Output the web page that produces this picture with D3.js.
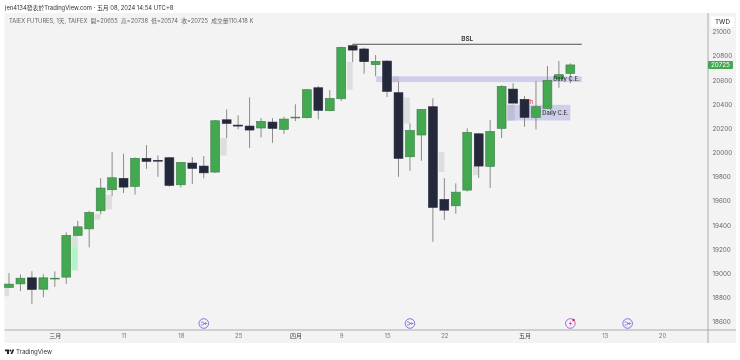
<!DOCTYPE html>
<html>
<head>
<meta charset="utf-8">
<script src="https://cdn.jsdelivr.net/npm/d3@7"></script>
<style>
html, body { margin: 0; padding: 0; background: #fff; }
svg { display: block; font-family: Inter, "Noto Sans CJK TC", sans-serif; filter: blur(0.3px); }
</style>
</head>
<body>
<div id="chart"></div>
<script>
// daily candles
const opens  = [18883,18913,18963,18869,18958,18969,19314,19368,19518,19692,19786,19720,19952,19935,19957,19733,19913,19888,19838,20271,20227,20219,20203,20252,20192,20290,20288,20536,20346,20445,20884,20857,20727,20757,20495,19965,20145,20379,19612,19559,19689,20155,19885,20200,20525,20440,20291,20366,20611,20655];
const highs  = [19002,18991,19018,18993,19016,19339,19435,19518,19788,20004,19990,19960,20062,19976,19960,19922,19962,19971,20268,20357,20308,20457,20285,20285,20296,20399,20525,20550,20517,20875,20896,20868,20807,20763,20586,20241,20360,20448,19788,19745,20200,20160,20269,20556,20573,20467,20592,20716,20757,20738];
const lows   = [18885,18853,18747,18803,18888,18913,19310,19215,19490,19642,19664,19653,19865,19799,19718,19711,19739,19786,19832,20120,20192,20039,20125,20081,20153,20260,20282,20275,20342,20426,20749,20652,20631,20459,19799,19849,19932,19261,19443,19493,19678,19790,19708,20120,20400,20213,20192,20360,20536,20574];
const closes = [18911,18960,18867,18963,18960,19314,19385,19504,19706,19791,19714,19952,19927,19933,19728,19918,19869,19832,20263,20241,20219,20186,20258,20200,20277,20293,20520,20349,20448,20871,20848,20752,20755,20506,19952,20183,20357,19546,19523,19672,20167,19888,20175,20548,20410,20291,20379,20597,20644,20725];

const priceTicks = [21000,20800,20600,20400,20200,20000,19800,19600,19400,19200,19000,18800,18600];
const dayTicks   = [4,10,15,20,25,29,33,38,45,52,57];
const dayLabels  = ['三月','11','18','25','四月','9','15','22','五月','13','20'];
const boldDays   = [4,25,45];

// gaps: [from bar, to bar, top price, bottom price]
const grayGaps = [[-0.4,0,18883,18810],[18.45,19,20120,19975],[5.45,6,19310,19225],[7.45,8,19490,19445],[8.45,9,19650,19530],[29.5,30,20750,20520],[34.45,35,20455,20240],[37.5,38,20005,19838],[40.5,41,19895,19812]];
const greenGaps = [[5.45,6,19225,19025]];
const zones = [[32.05,50,20630,20583,'Daily C.E.',47.5],[43.5,49,20395,20265,'Daily C.E.',46.55]];
const zoneShades = [[33.5,34.05,20630,20583],[43.5,44.15,20395,20265]];
const bslLine = [30,50,20896];
const eventBars = [17,35,49,54];

const width = 740, height = 360;
const pane = {left: 4.5, right: 708, top: 13, bottom: 330, end: 343, axisEnd: 736};

const svg = d3.select('#chart').append('svg').attr('width',width).attr('height',height);

let scaleX = d3.scaleLinear().domain([0,57]).range([9,662]);
let scaleY = d3.scaleLinear().domain([18600,21000]).range([321.7,31.7]);
const bodyW = scaleX(1)-scaleX(0)-2.6;

svg.append('rect').attr('x',pane.left).attr('y',pane.top).attr('width',pane.axisEnd-pane.left).attr('height',pane.end-pane.top).attr('fill','#f3f3f3');

svg.append('text').attr('x',5).attr('y',10.2).attr('font-size',5.85).attr('fill','#333').text('jen4134發表於TradingView.com · 五月 08, 2024 14:54 UTC+8');
svg.append('text').attr('x',9).attr('y',23).attr('font-size',5.75).attr('fill','#666').text('TAIEX FUTURES, 1天, TAIFEX  開=20655  高=20738  低=20574  收=20725  成交量110.418 K').attr('xml:space','preserve');

const plot = svg.append('g');

function boxes(list, fill, opacity) {
    plot.selectAll(null).data(list).enter().append('rect')
        .attr('x',d=>Math.max(scaleX(d[0]),pane.left))
        .attr('y',d=>scaleY(d[2]))
        .attr('width',d=>scaleX(d[1])-Math.max(scaleX(d[0]),pane.left))
        .attr('height',d=>scaleY(d[3])-scaleY(d[2]))
        .attr('fill',fill)
        .attr('fill-opacity',opacity);
}

boxes(grayGaps,'#dcdfdc',1);
boxes(greenGaps,'#b5f2cb',1);
boxes(zones,'#cfcfec',1);
boxes(zoneShades,'#b9bad2',0.8);

// half hidden label behind the candles
plot.append('text').attr('x',scaleX(45.75)).attr('y',scaleY(20405)).attr('text-anchor','end').attr('font-size',6).attr('font-weight',600).attr('fill','#ef5a6f').text('Old High');

const bars = d3.range(opens.length);
const color = i => closes[i]>=opens[i] ? '#43a84f' : '#23283a';

plot.selectAll('line.wick').data(bars).enter().append('line')
    .attr('class','wick')
    .attr('x1',i=>scaleX(i)).attr('x2',i=>scaleX(i))
    .attr('y1',i=>scaleY(highs[i])).attr('y2',i=>scaleY(lows[i]))
    .attr('stroke','#8a8a8a').attr('stroke-width',1);

plot.selectAll('rect.body').data(bars).enter().append('rect')
    .attr('class','body')
    .attr('x',i=>scaleX(i)-bodyW/2)
    .attr('y',i=>scaleY(Math.max(opens[i],closes[i])))
    .attr('width',bodyW)
    .attr('height',i=>Math.max(0.8,Math.abs(scaleY(opens[i])-scaleY(closes[i]))))
    .attr('fill',color)
    .attr('stroke',i=>closes[i]>=opens[i] ? '#3b7d47' : '#23283a')
    .attr('stroke-width',0.6);

// BSL line and zone labels
plot.append('line').attr('x1',scaleX(bslLine[0])).attr('x2',scaleX(bslLine[1]))
    .attr('y1',scaleY(bslLine[2])).attr('y2',scaleY(bslLine[2])).attr('stroke','#555').attr('stroke-width',1);
plot.append('text').attr('x',scaleX(40)).attr('y',scaleY(20896)-2.8).attr('text-anchor','middle')
    .attr('font-size',6.4).attr('font-weight',600).attr('fill','#333').text('BSL');
plot.selectAll(null).data(zones).enter().append('text')
    .attr('x',d=>scaleX(d[5])).attr('y',d=>(scaleY(d[2])+scaleY(d[3]))/2+2.2)
    .attr('font-size',5.8).attr('font-weight',500).attr('fill','#333').text(d=>d[4]);

// axes
const yAxis = d3.axisRight(scaleY).tickValues(priceTicks).tickSize(0).tickPadding(4.5).tickFormat(d3.format('d'));
const yG = svg.append('g').attr('transform','translate('+pane.right+',0)').call(yAxis);
yG.select('.domain').remove();
yG.selectAll('text').attr('font-size',6.3).attr('fill','#666').attr('font-family','Inter, sans-serif');

const xAxis = d3.axisBottom(scaleX).tickValues(dayTicks).tickSize(0).tickPadding(3.6).tickFormat(d=>dayLabels[dayTicks.indexOf(d)]);
const xG = svg.append('g').attr('transform','translate(0,'+pane.bottom+')').call(xAxis);
xG.select('.domain').remove();
xG.selectAll('text').attr('font-size',6).attr('fill',d=>boldDays.includes(d)?'#444':'#777').attr('font-family','Inter, "Noto Sans CJK TC", sans-serif');

svg.append('line').attr('x1',pane.left).attr('x2',pane.axisEnd).attr('y1',pane.bottom).attr('y2',pane.bottom).attr('stroke','#999').attr('stroke-width',0.8);
svg.append('line').attr('x1',pane.right).attr('x2',pane.right).attr('y1',pane.top).attr('y2',pane.end).attr('stroke','#999').attr('stroke-width',0.8);

// currency tag and last price tag
svg.append('rect').attr('x',711).attr('y',16.5).attr('width',23).attr('height',10.5).attr('rx',1).attr('fill','#fff');
svg.append('text').attr('x',722.5).attr('y',23.5).attr('text-anchor','middle').attr('font-size',6.3).attr('font-weight',500).attr('fill','#444').text('TWD');
const last = closes[closes.length-1];
svg.append('rect').attr('x',pane.right).attr('y',scaleY(last)-4).attr('width',25).attr('height',8).attr('rx',1).attr('fill','#43a84f');
svg.append('text').attr('x',pane.right+12.5).attr('y',scaleY(last)+2.3).attr('text-anchor','middle').attr('font-size',6.3).attr('fill','#fff').text(last);

// event markers on the time axis
const icons = svg.selectAll(null).data(eventBars).enter().append('g')
    .attr('transform',i=>'translate('+scaleX(i)+',323.5)');
icons.append('circle').attr('r',4.8).attr('fill','none').attr('stroke',i=>i===49?'#a040c8':'#6a4fe0').attr('stroke-width',0.8);
icons.append('path').attr('d',i=>i===49?'M0.8,-3 L-1.4,0.4 L0.2,0.4 L-0.8,3 L1.6,-0.6 L0,-0.6 Z':'M-3,-1.5 L-1,-1.5 L0.5,0 L-1,1.5 L-3,1.5 M-0.5,0 L2.8,0 M1.5,-1.3 L2.8,0 L1.5,1.3')
    .attr('fill',i=>i===49?'#a040c8':'none').attr('stroke',i=>i===49?'none':'#6a4fe0').attr('stroke-width',0.7);
icons.filter(i=>i===49).append('circle').attr('cx',3.2).attr('cy',-3.4).attr('r',1.3).attr('fill','#e0304a');

// TradingView logo
svg.append('path').attr('d','M5,349.5 h4 v4.5 h-2 v-2.7 h-2 Z M12.5,349.5 h1.8 l-2,4.5 h-1.9 Z').attr('fill','#222');
svg.append('circle').attr('cx',10.4).attr('cy',350.5).attr('r',1).attr('fill','#222');
svg.append('text').attr('x',16).attr('y',354).attr('font-size',6.1).attr('fill','#333').text('TradingView');
</script>
</body>
</html>
